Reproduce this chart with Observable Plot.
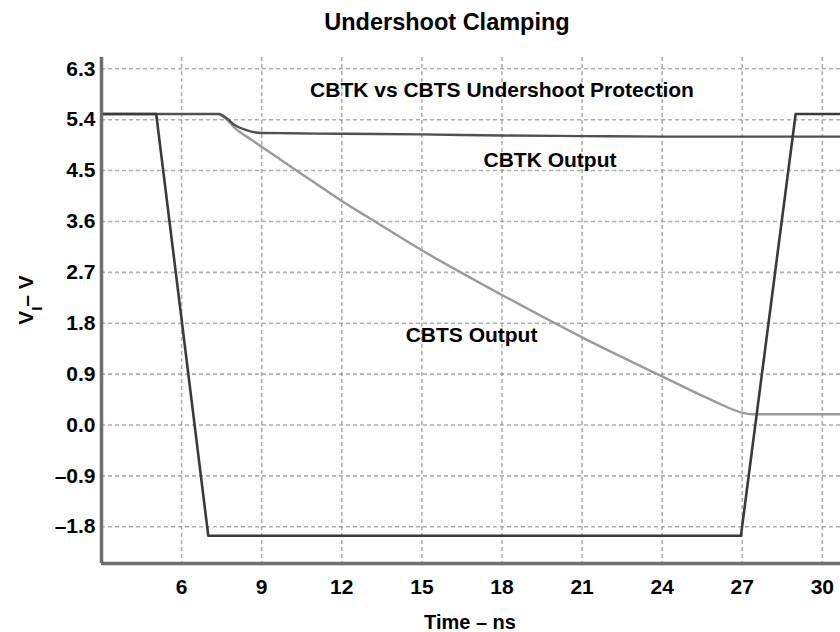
<!DOCTYPE html>
<html>
<head>
<meta charset="utf-8">
<script src="https://cdn.jsdelivr.net/npm/d3@7"></script>
<script src="https://cdn.jsdelivr.net/npm/@observablehq/plot@0.6"></script>
<style>
  html, body { margin: 0; padding: 0; background: #fff; }
  #chart { width: 840px; height: 632px; overflow: hidden; }
</style>
</head>
<body>
<div id="chart"></div>
<script>
// ---- data ----
const xTicks = [6, 9, 12, 15, 18, 21, 24, 27, 30];
const yTicks = [-1.8, -0.9, 0.0, 0.9, 1.8, 2.7, 3.6, 4.5, 5.4, 6.3];
const xDomain = [3, 30.68];
const yDomain = [-2.45, 6.5];

// Input signal (V_I)
const inputT = [3, 5.05, 7.0, 26.95, 29.0, 30.68];
const inputV = [5.5, 5.5, -1.96, -1.96, 5.5, 5.5];

// CBTK output
const cbtkT = [3, 7.4, 7.7, 8.0, 8.4, 8.86, 10, 12, 15, 18, 21, 24, 27, 30.68];
const cbtkV = [5.5, 5.5, 5.42, 5.3, 5.22, 5.17, 5.16, 5.15, 5.14, 5.12, 5.11, 5.1, 5.1, 5.1];

// CBTS output
const cbtsT = [7.4, 7.7, 8.0, 8.6, 9.75, 11.0, 12.0, 13.0, 15.0, 18.0, 21.0, 24.0, 26.0, 26.98, 27.4, 30.68];
const cbtsV = [5.5, 5.4, 5.25, 5.05, 4.68, 4.28, 3.96, 3.67, 3.09, 2.30, 1.55, 0.86, 0.41, 0.22, 0.19, 0.19];

// Text annotations
const noteText = ["CBTK vs CBTS Undershoot Protection", "CBTK Output", "CBTS Output"];
const noteX = [18.0, 19.8, 16.86];
const noteY = [5.92, 4.69, 1.58];

const titleText = "Undershoot Clamping";
const xLabel = "Time – ns";

// ---- build tables ----
const inputData = inputT.map((t, i) => ({t, v: inputV[i]}));
const cbtkData = cbtkT.map((t, i) => ({t, v: cbtkV[i]}));
const cbtsData = cbtsT.map((t, i) => ({t, v: cbtsV[i]}));
const notes = noteText.map((s, i) => ({s, x: noteX[i], y: noteY[i]}));

const fmtY = d => (d < 0 ? "\u2013" : "") + Math.abs(d).toFixed(1);
const FONT = "'Liberation Sans', Arial, Helvetica, sans-serif";

const plot = Plot.plot({
  width: 840,
  height: 632,
  marginLeft: 101,
  marginRight: 0,
  marginTop: 57,
  marginBottom: 69,
  style: {fontFamily: FONT, fontSize: "21px", fontWeight: "bold", color: "#000", background: "#fff", overflow: "visible"},
  x: {domain: xDomain, ticks: xTicks},
  y: {domain: yDomain, ticks: yTicks},
  marks: [
    Plot.ruleY(yTicks, {stroke: "#8c8c8c", strokeWidth: 1.6, strokeDasharray: "4,3", strokeOpacity: 0.7}),
    Plot.ruleX(xTicks, {stroke: "#8c8c8c", strokeWidth: 1.6, strokeDasharray: "4,3", strokeOpacity: 0.7}),
    Plot.line(cbtsData, {x: "t", y: "v", stroke: "#9a9a9a", strokeWidth: 2.4, curve: "monotone-x"}),
    Plot.line(cbtkData, {x: "t", y: "v", stroke: "#505050", strokeWidth: 2.4, curve: "monotone-x"}),
    Plot.line(inputData, {x: "t", y: "v", stroke: "#3a3a3a", strokeWidth: 2.6}),
    Plot.ruleX([xDomain[0]], {stroke: "#6e6e6e", strokeWidth: 3.5}),
    Plot.ruleY([yDomain[0]], {stroke: "#6e6e6e", strokeWidth: 3.5}),
    Plot.axisY({ticks: yTicks, tickSize: 0, tickPadding: 6, tickFormat: fmtY, label: null, fontSize: 21}),
    Plot.axisX({ticks: xTicks, tickSize: 0, tickPadding: 16, tickFormat: d => String(d), label: null, fontSize: 21}),
    Plot.text(notes, {x: "x", y: "y", text: "s", fontSize: 21, fontWeight: "bold", fill: "#000", textAnchor: "middle"})
  ]
});

document.getElementById("chart").appendChild(plot);

const svg = d3.select(plot);
svg.append("text")
  .attr("x", 447).attr("y", 22).attr("dy", "0.35em")
  .attr("text-anchor", "middle")
  .style("font-family", FONT).style("font-size", "23.5px").style("font-weight", "bold")
  .attr("fill", "#000")
  .text(titleText);

svg.append("text")
  .attr("x", 470).attr("y", 622).attr("dy", "0.35em")
  .attr("text-anchor", "middle")
  .style("font-family", FONT).style("font-size", "20px").style("font-weight", "bold")
  .attr("fill", "#000")
  .text(xLabel);

const yl = svg.append("text")
  .attr("transform", "translate(33,300) rotate(-90)")
  .attr("text-anchor", "middle")
  .style("font-family", FONT).style("font-size", "21px").style("font-weight", "bold")
  .attr("fill", "#000");
yl.append("tspan").text("V");
yl.append("tspan").attr("baseline-shift", "sub").style("font-size", "15px").text("I");
yl.append("tspan").text("\u2013 V");
</script>
</body>
</html>
